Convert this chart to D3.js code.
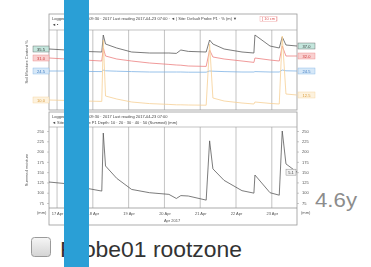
<!DOCTYPE html>
<meta charset="utf-8">
<style>
body { margin: 0; background: #fff; }
text { font-family: "Liberation Sans", Arial, sans-serif; }
</style>
<body>
<script src="https://d3js.org/d3.v7.min.js"></script>
<script>

var width = 371,
    height = 267;

// hours after 17 Apr 2017 00:00
var hours = [-5.4, 6, 18, 30, 31, 32.5, 40, 50, 62, 75, 80, 83, 88, 100, 102.3, 104.5, 112, 124, 132, 132.7, 142.8, 149, 151, 153.5, 160.9];
// soil moisture %, four depths
var depth10 = [35.5, 35, 34.3, 34, 42.5, 38, 36, 34, 33.5, 33.5, 33.3, 35, 34.3, 34, 40, 38, 35.5, 34, 33.5, 42.5, 37, 36, 41.5, 37.5, 37];
var depth20 = [31, 30.5, 30, 29.5, 36, 32, 30.5, 29.5, 28.5, 27.8, 27.5, 27.4, 27, 26.8, 35, 31.5, 30.5, 29.5, 28.8, 31, 30, 29.5, 37, 32, 32];
var depth30 = [24.5, 24.5, 24.3, 24.2, 25, 24.6, 24.4, 24.2, 24, 24, 24, 24, 23.9, 23.9, 24.5, 24.4, 24.2, 24, 24, 24.2, 24, 24, 25, 24.6, 24.5];
var depth40 = [10, 9.8, 9.5, 9.3, 40, 12, 10.5, 9, 8.2, 7.8, 7.6, 7.6, 7.5, 7.4, 38, 11, 9.5, 8.5, 8, 9, 8.3, 8, 42, 13, 12.5];
// summed moisture, mm
var summed = [126, 122, 112, 104, 245, 165, 135, 108, 100, 96, 86, 93, 92, 82, 226, 158, 130, 105, 99, 143, 100, 94, 250, 170, 150];

var dayTicks = ["2017-04-17", "2017-04-18", "2017-04-19", "2017-04-20", "2017-04-21", "2017-04-22", "2017-04-23"];
var summedTicks = [250, 225, 200, 175, 150, 125, 100, 75];

var series = [
  {values: depth10, line: "#5a5a5a", fill: "#c4e6dd", text: "#333"},
  {values: depth20, line: "#ec8080", fill: "#f9d0d0", text: "#c33"},
  {values: depth30, line: "#7fb2e4", fill: "#d6e8f8", text: "#3a78c0"},
  {values: depth40, line: "#f6cf94", fill: "#fdf2de", text: "#d99a3a"}
];

var t0 = new Date(2017, 3, 17);
var times = hours.map(h => new Date(t0.getTime() + h * 3600000));

var svg = d3.select("body").append("svg")
    .attr("width", width)
    .attr("height", height);

var defs = svg.append("defs");
defs.append("filter").attr("id", "soft")
  .append("feGaussianBlur").attr("stdDeviation", 0.4);
var grad = defs.append("linearGradient").attr("id", "cb")
    .attr("x1", 0).attr("y1", 0).attr("x2", 0).attr("y2", 1);
grad.append("stop").attr("offset", "0%").attr("stop-color", "#f6f6f6");
grad.append("stop").attr("offset", "100%").attr("stop-color", "#d4d4d4");

var chart = svg.append("g").attr("filter", "url(#soft)");

var x = d3.scaleTime()
    .domain([times[0], times[times.length - 1]])
    .range([49, 297]);

var yTop = d3.scaleLinear().domain([5, 45]).range([110, 30]);
var yLow = d3.scaleLinear().domain([75, 250]).range([203, 131]);

// panel frames
chart.append("rect").attr("x", 49).attr("y", 14).attr("width", 248).attr("height", 96)
    .attr("fill", "none").attr("stroke", "#999").attr("stroke-width", 0.8);
chart.append("line").attr("x1", 49).attr("x2", 297).attr("y1", 30).attr("y2", 30)
    .attr("stroke", "#aaa").attr("stroke-width", 0.7);
chart.append("rect").attr("x", 49).attr("y", 112).attr("width", 248).attr("height", 113)
    .attr("fill", "none").attr("stroke", "#999").attr("stroke-width", 0.8);
chart.append("line").attr("x1", 49).attr("x2", 297).attr("y1", 127).attr("y2", 127)
    .attr("stroke", "#aaa").attr("stroke-width", 0.7);
chart.append("line").attr("x1", 49).attr("x2", 297).attr("y1", 208).attr("y2", 208)
    .attr("stroke", "#888").attr("stroke-width", 0.7);

// header texts
var small = 4;
function hdr(txt, xx, yy, col) {
  chart.append("text").attr("x", xx).attr("y", yy).attr("font-size", small)
      .attr("fill", col || "#444").text(txt);
}
hdr("Logged: 2017-01-12 09:30 · 2017   Last reading 2017-04-23 07:00 ·   ◄  |  Site: Default   Probe P1   ·  % (m)  ▼", 52, 20);
hdr("[ 10 cm ]", 262, 20, "#d55");
chart.append("rect").attr("x", 260).attr("y", 16.5).attr("width", 17).attr("height", 5)
    .attr("fill", "none").attr("stroke", "#e99").attr("stroke-width", 0.4);
hdr("◄  ▪", 52, 26);
hdr("Logged: 2017-01-12 09:30 · 2017   Last reading 2017-04-23 07:00", 52, 118);
hdr("◄  Site: Default   Probe P1   Depth: 10 · 20 · 30 · 40 · 50 (Summed) (mm)", 52, 124);

// vertical gridlines
var days = dayTicks.map(d => d3.timeParse("%Y-%m-%d")(d));
chart.selectAll(".gtop").data(days).enter().append("line")
    .attr("x1", d => x(d)).attr("x2", d => x(d))
    .attr("y1", 30).attr("y2", 110)
    .attr("stroke", "#9a9a9a").attr("stroke-width", 0.6);
chart.selectAll(".glow").data(days).enter().append("line")
    .attr("x1", d => x(d)).attr("x2", d => x(d))
    .attr("y1", 127).attr("y2", 208)
    .attr("stroke", "#9a9a9a").attr("stroke-width", 0.6);

// upper lines
series.forEach(function(s) {
  var line = d3.line().x((d, i) => x(times[i])).y(d => yTop(d));
  chart.append("path").datum(s.values)
      .attr("fill", "none").attr("stroke", s.line).attr("stroke-width", 0.8)
      .attr("d", line);
});

// value tags
function tag(xx, yy, val, s, w) {
  chart.append("rect").attr("x", xx).attr("y", yy - 3).attr("width", w).attr("height", 6)
      .attr("fill", s.fill).attr("stroke", s.line).attr("stroke-width", 0.4);
  chart.append("text").attr("x", xx + w / 2).attr("y", yy + 1.5).attr("text-anchor", "middle")
      .attr("font-size", 4).attr("fill", s.text).text(val);
}
series.forEach(function(s) {
  tag(33, yTop(s.values[0]), d3.format(".1f")(s.values[0]), s, 16);
  tag(298, yTop(s.values[s.values.length - 1]), d3.format(".1f")(s.values[s.values.length - 1]), s, 17);
});

// lower line
var lowLine = d3.line().x((d, i) => x(times[i])).y(d => yLow(d));
chart.append("path").datum(summed)
    .attr("fill", "none").attr("stroke", "#5a5a5a").attr("stroke-width", 0.8)
    .attr("d", lowLine);
tag(286, yLow(summed[summed.length - 1]), "5.1", {fill: "#f2f2f2", line: "#777", text: "#444"}, 10);

// lower y axes
var axL = chart.append("g").attr("transform", "translate(49,0)")
    .call(d3.axisLeft(yLow).tickValues(summedTicks).tickSize(2).tickPadding(3));
var axR = chart.append("g").attr("transform", "translate(297,0)")
    .call(d3.axisRight(yLow).tickValues(summedTicks).tickSize(2).tickPadding(3));
[axL, axR].forEach(function(a) {
  a.select(".domain").remove();
  a.selectAll("line").attr("stroke", "#999").attr("stroke-width", 0.5);
  a.selectAll("text").attr("font-size", 4).attr("fill", "#555");
});
hdr("(mm)", 37, 214, "#555");
hdr("(mm)", 301, 214, "#555");

// x axis
var axX = chart.append("g").attr("transform", "translate(0,208)")
    .call(d3.axisBottom(x).tickValues(days).tickSize(0).tickPadding(4)
      .tickFormat(d3.timeFormat("%d Apr")));
axX.select(".domain").remove();
axX.selectAll("text").attr("font-size", 4).attr("fill", "#555");
chart.append("text").attr("x", 172).attr("y", 222).attr("text-anchor", "middle")
    .attr("font-size", 4).attr("fill", "#555").text("Apr 2017");

// axis titles
chart.append("text").attr("transform", "translate(28,62) rotate(-90)")
    .attr("text-anchor", "middle").attr("font-size", 4).attr("fill", "#555")
    .text("Soil Moisture Content %");
chart.append("text").attr("transform", "translate(28,170) rotate(-90)")
    .attr("text-anchor", "middle").attr("font-size", 4).attr("fill", "#555")
    .text("Summed moisture");

// page elements around the thumbnail
svg.append("text").attr("x", 315).attr("y", 207)
    .attr("font-family", "Roboto").attr("font-size", 21).attr("fill", "#8c8c8c")
    .attr("textLength", 42).attr("lengthAdjust", "spacingAndGlyphs")
    .text("4.6y");

svg.append("rect").attr("x", 31.5).attr("y", 237.5).attr("width", 19).attr("height", 19)
    .attr("rx", 3).attr("fill", "url(#cb)").attr("stroke", "#9a9a9a");

svg.append("text").attr("x", 60).attr("y", 257)
    .attr("font-family", "Roboto").attr("font-size", 22).attr("fill", "#333")
    .attr("textLength", 182).attr("lengthAdjust", "spacingAndGlyphs")
    .text("Probe01 rootzone");

svg.append("rect").attr("x", 64).attr("y", 0).attr("width", 25).attr("height", height)
    .attr("fill", "#2a9fd6");

</script>
